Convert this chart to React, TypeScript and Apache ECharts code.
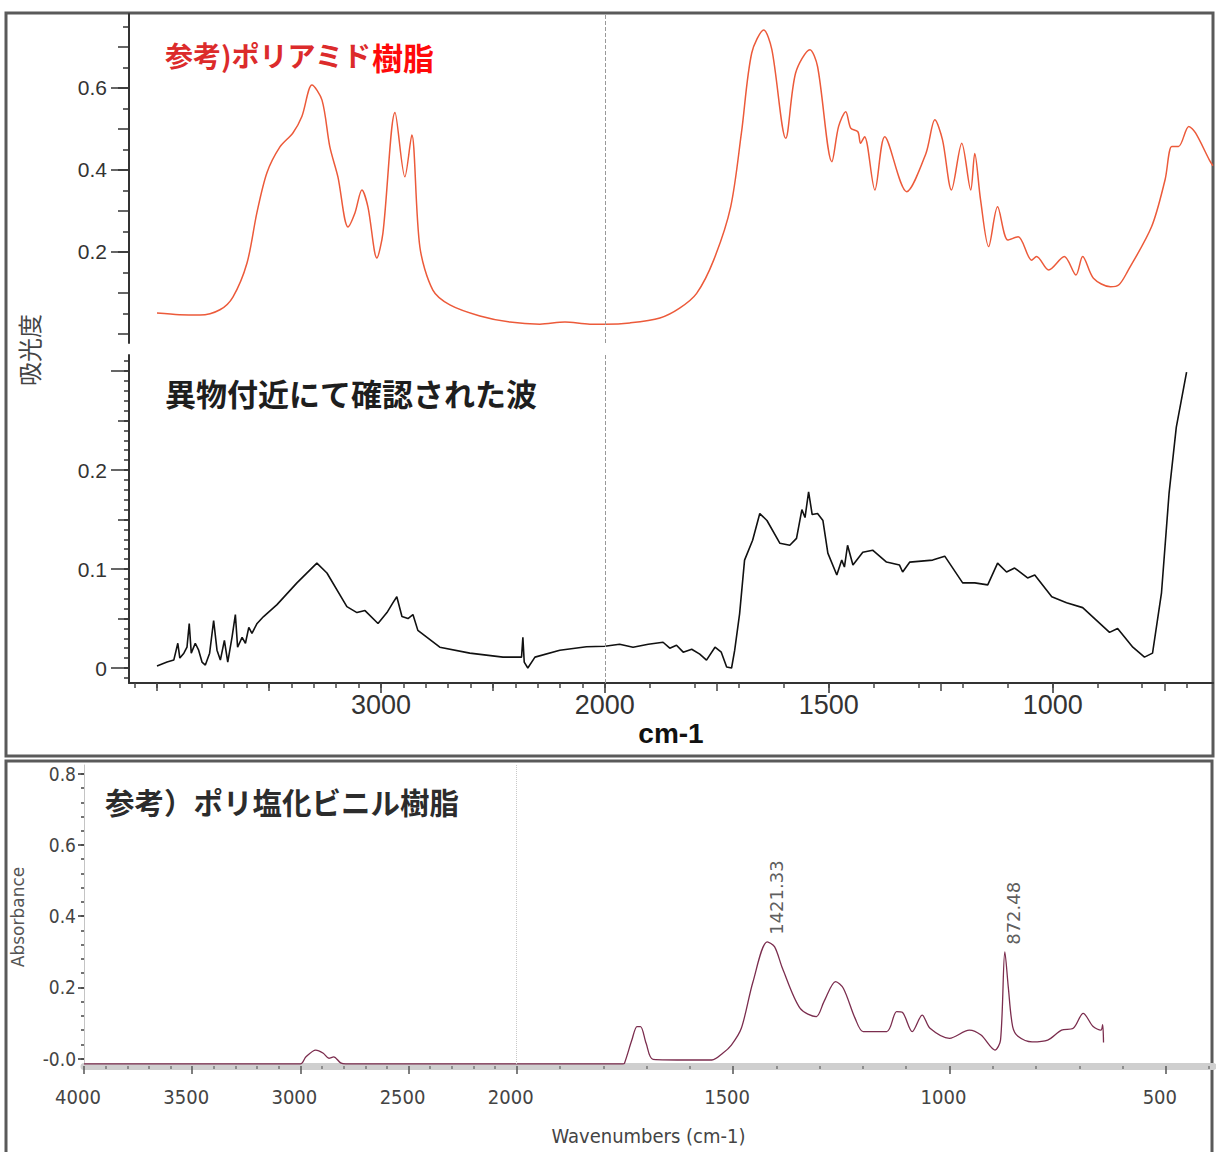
import React, { useEffect, useRef } from "react";
import * as echarts from "echarts";

// ---------- data (wavenumber cm-1, absorbance) ----------
const amideWave = [4000, 3900, 3808, 3719, 3661, 3598, 3554, 3509, 3451, 3393, 3353, 3308, 3263, 3228, 3192, 3147, 3116, 3085, 3058, 3018, 2991, 2937, 2893, 2862, 2826, 2768, 2692, 2558, 2424, 2290, 2178, 2067, 2000, 1944, 1877, 1833, 1795, 1757, 1719, 1695, 1672, 1645, 1627, 1596, 1574, 1542, 1525, 1493, 1478, 1462, 1451, 1435, 1429, 1420, 1397, 1375, 1326, 1283, 1263, 1246, 1226, 1203, 1183, 1174, 1161, 1143, 1123, 1100, 1077, 1047, 1036, 1009, 974, 948, 933, 909, 871, 852, 833, 779, 749, 734, 719, 696, 681, 650, 642];
const amideAbs = [0.051, 0.047, 0.046, 0.059, 0.09, 0.173, 0.295, 0.393, 0.456, 0.49, 0.53, 0.607, 0.57, 0.456, 0.383, 0.261, 0.295, 0.351, 0.31, 0.185, 0.246, 0.54, 0.383, 0.485, 0.212, 0.107, 0.071, 0.044, 0.029, 0.024, 0.029, 0.024, 0.024, 0.027, 0.039, 0.063, 0.099, 0.18, 0.31, 0.49, 0.685, 0.741, 0.693, 0.477, 0.636, 0.693, 0.652, 0.42, 0.506, 0.542, 0.502, 0.493, 0.465, 0.481, 0.351, 0.481, 0.347, 0.44, 0.522, 0.473, 0.351, 0.465, 0.351, 0.44, 0.327, 0.213, 0.31, 0.229, 0.237, 0.18, 0.189, 0.156, 0.189, 0.144, 0.189, 0.136, 0.115, 0.12, 0.152, 0.262, 0.376, 0.457, 0.457, 0.506, 0.49, 0.424, 0.41];

const sampleWave = [4000, 3955, 3925, 3907, 3898, 3880, 3866, 3856, 3847, 3829, 3814, 3799, 3784, 3765, 3747, 3732, 3717, 3699, 3684, 3665, 3650, 3640, 3620, 3605, 3590, 3576, 3553, 3524, 3464, 3375, 3286, 3241, 3152, 3107, 3071, 3013, 2973, 2946, 2929, 2906, 2879, 2857, 2835, 2737, 2603, 2455, 2388, 2372, 2366, 2360, 2344, 2312, 2201, 2082, 2000, 1967, 1937, 1903, 1870, 1855, 1840, 1825, 1806, 1788, 1773, 1754, 1740, 1728, 1717, 1710, 1699, 1688, 1670, 1654, 1638, 1609, 1587, 1572, 1560, 1553, 1545, 1537, 1525, 1513, 1502, 1482, 1471, 1465, 1458, 1446, 1424, 1402, 1371, 1342, 1335, 1319, 1268, 1241, 1201, 1174, 1145, 1123, 1103, 1085, 1056, 1040, 1002, 969, 933, 873, 855, 821, 795, 777, 757, 740, 724, 701];
const sampleAbs = [0.002, 0.006, 0.008, 0.025, 0.01, 0.015, 0.021, 0.045, 0.015, 0.025, 0.018, 0.006, 0.003, 0.015, 0.048, 0.018, 0.008, 0.028, 0.006, 0.031, 0.054, 0.021, 0.031, 0.025, 0.041, 0.035, 0.045, 0.052, 0.064, 0.086, 0.106, 0.096, 0.062, 0.056, 0.058, 0.045, 0.056, 0.066, 0.072, 0.052, 0.05, 0.054, 0.038, 0.021, 0.015, 0.011, 0.011, 0.011, 0.031, 0.006, 0.0, 0.011, 0.018, 0.0215, 0.022, 0.024, 0.021, 0.024, 0.026, 0.02, 0.023, 0.016, 0.019, 0.014, 0.008, 0.021, 0.016, 0.001, 0.0, 0.018, 0.055, 0.109, 0.129, 0.156, 0.149, 0.126, 0.124, 0.131, 0.16, 0.152, 0.178, 0.155, 0.156, 0.149, 0.116, 0.094, 0.109, 0.102, 0.124, 0.104, 0.117, 0.119, 0.107, 0.104, 0.097, 0.107, 0.109, 0.113, 0.086, 0.086, 0.084, 0.106, 0.097, 0.101, 0.091, 0.094, 0.072, 0.066, 0.061, 0.036, 0.04, 0.021, 0.011, 0.015, 0.076, 0.177, 0.243, 0.299];

const pvcWave = [4000, 3000, 2974, 2929, 2894, 2868, 2846, 2814, 2790, 1755, 1751, 1734, 1722, 1714, 1701, 1685, 1600, 1549, 1524, 1504, 1481, 1454, 1421, 1404, 1386, 1345, 1308, 1290, 1263, 1245, 1218, 1199, 1145, 1122, 1109, 1086, 1063, 1045, 1000, 954, 927, 895, 882, 872, 864, 854, 841, 809, 773, 741, 714, 691, 668, 650, 646, 644];
const pvcAbs = [-0.015, -0.015, 0.005, 0.024, 0.015, 0.001, 0.005, -0.012, -0.015, -0.015, -0.013, 0.052, 0.09, 0.09, 0.043, -0.002, -0.004, -0.004, 0.015, 0.038, 0.085, 0.216, 0.328, 0.314, 0.254, 0.141, 0.118, 0.16, 0.216, 0.197, 0.113, 0.076, 0.076, 0.132, 0.13, 0.076, 0.122, 0.085, 0.057, 0.08, 0.066, 0.024, 0.052, 0.3, 0.2, 0.09, 0.062, 0.047, 0.052, 0.08, 0.085, 0.127, 0.09, 0.08, 0.095, 0.045];

const peakWave = [1421.33, 872.48];
const peakAbs = [0.328, 0.3];
const peakText = ["1421.33", "872.48"];

// tick labels
const topLabelWaves = [3000, 2000, 1500, 1000];
const topMidTickWaves = [4000, 3500, 2500, 1750, 1250, 750];
const bottomLabelWaves = [4000, 3500, 3000, 2500, 2000, 1500, 1000, 500];
const upperYLabels = [0.2, 0.4, 0.6];
const lowerYLabels = [0, 0.1, 0.2];
const pvcYLabels = [0, 0.2, 0.4, 0.6, 0.8];

const titleAmideA = "参考)ポリアミド";
const titleAmideB = "樹脂";
const titleSample = "異物付近にて確認された波";
const titlePvc = "参考）ポリ塩化ビニル樹脂";

// ---------- helpers ----------
// FTIR axis: scale doubles below 2000 cm-1
const toU = (w: number) => (w > 2000 ? 2000 + (w - 2000) / 2 : w);
const fromU = (u: number) => (u > 2000 ? 2000 + (u - 2000) * 2 : u);
const steps = (a: number, b: number, s: number) => {
  const out: number[] = [];
  const n = Math.round((b - a) / s);
  for (let i = 0; i <= n; i++) out.push(Math.round((a + i * s) * 10000) / 10000);
  return out;
};
const pairs = (w: number[], a: number[]) => w.map((x, i) => [toU(x), a[i]]);

const SANS = "'Liberation Sans', Arial, sans-serif";
const NARROW = "'Liberation Sans Narrow', 'DejaVu Sans Condensed', 'Arial Narrow', 'Liberation Sans', sans-serif";
const CJK = "'Noto Sans CJK JP', 'Noto Sans CJK SC', sans-serif";

const TOP_MIN = 642;
const TOP_MAX = 3062.5;
const BOT_MIN = 391;
const BOT_MAX = 3000;

const tickOnlyX = (gridIndex: number, min: number, max: number, values: number[], length: number, color: string) => ({
  type: "value", gridIndex, min, max, inverse: true, position: "bottom",
  axisLine: { show: false, onZero: false },
  axisTick: { show: true, customValues: values, length, lineStyle: { color, width: 1.5 } },
  axisLabel: { show: false },
  splitLine: { show: false },
});
const tickOnlyY = (gridIndex: number, min: number, max: number, values: number[], length: number, color: string) => ({
  type: "value", gridIndex, min, max, position: "left",
  axisLine: { show: false, onZero: false },
  axisTick: { show: true, customValues: values, length, lineStyle: { color, width: 1.5 } },
  axisLabel: { show: false },
  splitLine: { show: false },
});

export default function App() {
  const ref = useRef<HTMLDivElement>(null);
  useEffect(() => {
    document.body.style.margin = "0";
    if (!ref.current) return;
    const chart = echarts.init(ref.current, null, { renderer: "svg" });

    const topMinor = steps(700, 4100, 100).map(toU).filter((u) => u >= TOP_MIN && u <= TOP_MAX);
    const botMinor = steps(400, 4000, 100).map(toU).filter((u) => u >= BOT_MIN && u <= BOT_MAX);

    const option: any = {
      animation: false,
      backgroundColor: "#ffffff",
      grid: [
        { left: 129, top: 14, width: 1084, height: 329, outerBoundsMode: "none" },
        { left: 129, top: 355, width: 1084, height: 328, outerBoundsMode: "none" },
        { left: 84, top: 765, width: 1129, height: 301, outerBoundsMode: "none" },
      ],
      xAxis: [
        { type: "value", gridIndex: 0, min: TOP_MIN, max: TOP_MAX, inverse: true, show: false, axisLine: { onZero: false } },
        {
          type: "value", gridIndex: 1, min: TOP_MIN, max: TOP_MAX, inverse: true, position: "bottom",
          axisLine: { show: true, onZero: false, lineStyle: { color: "#333", width: 2 } },
          axisTick: { show: true, customValues: topLabelWaves.map(toU), length: 10, lineStyle: { color: "#333", width: 1.5 } },
          axisLabel: {
            show: true, customValues: topLabelWaves.map(toU), formatter: (v: number) => String(Math.round(fromU(v))),
            fontSize: 27, fontFamily: SANS, color: "#333", margin: 22, verticalAlign: "middle",
          },
          splitLine: { show: false },
          name: "cm-1", nameLocation: "middle", nameGap: 50,
          nameTextStyle: { fontSize: 28, fontWeight: "bold", fontFamily: SANS, color: "#111", verticalAlign: "middle" },
        },
        tickOnlyX(1, TOP_MIN, TOP_MAX, topMidTickWaves.map(toU), 8, "#444"),
        tickOnlyX(1, TOP_MIN, TOP_MAX, topMinor, 5, "#444"),
        {
          type: "value", gridIndex: 2, min: BOT_MIN, max: BOT_MAX, inverse: true, position: "bottom",
          axisLine: { show: true, onZero: false, lineStyle: { color: "#cfcfcf", width: 7 } },
          axisTick: { show: true, customValues: bottomLabelWaves.map(toU), length: 8, lineStyle: { color: "#555", width: 1.5 } },
          axisLabel: {
            show: true, customValues: bottomLabelWaves.map(toU), formatter: (v: number) => String(Math.round(fromU(v))),
            fontSize: 20, fontFamily: NARROW, color: "#444", margin: 31, verticalAlign: "middle", padding: [0, 12, 0, 0],
          },
          splitLine: { show: false },
          name: "Wavenumbers (cm-1)", nameLocation: "middle", nameGap: 70,
          nameTextStyle: { fontSize: 20, fontFamily: NARROW, color: "#444", verticalAlign: "middle" },
        },
        tickOnlyX(2, BOT_MIN, BOT_MAX, botMinor, 3, "#777"),
      ],
      yAxis: [
        {
          type: "value", gridIndex: 0, min: -0.022, max: 0.78, position: "left",
          axisLine: { show: true, onZero: false, lineStyle: { color: "#333", width: 2 } },
          axisTick: { show: true, customValues: upperYLabels, length: 18, lineStyle: { color: "#333", width: 1.5 } },
          axisLabel: { show: true, customValues: upperYLabels, formatter: (v: number) => v.toFixed(1), fontSize: 21, fontFamily: SANS, color: "#333", margin: 22 },
          splitLine: { show: false },
        },
        tickOnlyY(0, -0.022, 0.78, steps(0, 0.7, 0.1), 11, "#333"),
        tickOnlyY(0, -0.022, 0.78, steps(0.05, 0.75, 0.1), 6, "#333"),
        {
          type: "value", gridIndex: 1, min: -0.01515, max: 0.3162, position: "left",
          axisLine: { show: true, onZero: false, lineStyle: { color: "#333", width: 2 } },
          axisTick: { show: true, customValues: [0, 0.1, 0.2, 0.3], length: 18, lineStyle: { color: "#333", width: 1.5 } },
          axisLabel: { show: true, customValues: lowerYLabels, formatter: (v: number) => (v === 0 ? "0" : v.toFixed(1)), fontSize: 21, fontFamily: SANS, color: "#333", margin: 22 },
          splitLine: { show: false },
        },
        tickOnlyY(1, -0.01515, 0.3162, [0.05, 0.15, 0.25], 11, "#333"),
        tickOnlyY(1, -0.01515, 0.3162, steps(-0.01, 0.31, 0.01), 5, "#333"),
        {
          type: "value", gridIndex: 2, min: -0.0208, max: 0.8247, position: "left",
          axisLine: { show: true, onZero: false, lineStyle: { color: "#c4c4c4", width: 1 } },
          axisTick: { show: true, customValues: pvcYLabels, length: 6, lineStyle: { color: "#333", width: 1.5 } },
          axisLabel: { show: true, customValues: pvcYLabels, formatter: (v: number) => (v === 0 ? "-0.0" : v.toFixed(1)), fontSize: 19, fontFamily: NARROW, color: "#444", margin: 8 },
          splitLine: { show: false },
        },
        tickOnlyY(2, -0.0208, 0.8247, steps(0, 0.8, 0.04), 3, "#444"),
      ],
      series: [
        {
          type: "line", xAxisIndex: 0, yAxisIndex: 0, data: pairs(amideWave, amideAbs),
          showSymbol: false, smooth: 0.3, lineStyle: { color: "#ec5a3a", width: 1.5 },
          markLine: { symbol: "none", silent: true, label: { show: false }, lineStyle: { type: "dashed", color: "#999", width: 1 }, data: [{ xAxis: 2000 }] },
        },
        {
          type: "line", xAxisIndex: 1, yAxisIndex: 3, data: pairs(sampleWave, sampleAbs),
          showSymbol: false, lineStyle: { color: "#111", width: 1.6 },
          markLine: { symbol: "none", silent: true, label: { show: false }, lineStyle: { type: "dashed", color: "#999", width: 1 }, data: [{ xAxis: 2000 }] },
        },
        {
          type: "line", xAxisIndex: 4, yAxisIndex: 6, data: pairs(pvcWave, pvcAbs),
          showSymbol: false, smooth: 0.3, lineStyle: { color: "#7b2d4e", width: 1.3 },
          markLine: { symbol: "none", silent: true, label: { show: false }, lineStyle: { type: "dotted", color: "#c8c8c8", width: 1 }, data: [{ xAxis: 2000 }] },
        },
        {
          type: "scatter", xAxisIndex: 4, yAxisIndex: 6, symbolSize: 0, silent: true,
          data: peakWave.map((w, i) => ({ value: [toU(w), peakAbs[i]], name: peakText[i] })),
          label: {
            show: true, position: "top", distance: 7, rotate: 90, align: "left", verticalAlign: "top",
            formatter: (p: any) => p.name, fontSize: 18, fontFamily: "'DejaVu Sans', sans-serif", color: "#333",
          },
        },
      ],
      graphic: [
        { type: "rect", shape: { x: 6, y: 13, width: 1207, height: 743 }, style: { fill: "none", stroke: "#5a5a5a", lineWidth: 3 }, silent: true },
        { type: "rect", shape: { x: 6, y: 761, width: 1206, height: 400 }, style: { fill: "none", stroke: "#5a5a5a", lineWidth: 3 }, silent: true },
        { type: "text", x: 165, y: 55, style: { text: titleAmideA, fontSize: 28, fontWeight: "bold", fontFamily: CJK, fill: "#dc2b2b", verticalAlign: "middle" } },
        { type: "text", x: 372, y: 56, style: { text: titleAmideB, fontSize: 31, fontWeight: "bold", fontFamily: CJK, fill: "#ff0a0a", verticalAlign: "middle" } },
        { type: "text", x: 165, y: 392, style: { text: titleSample, fontSize: 31, fontWeight: "bold", fontFamily: CJK, fill: "#1e1e1e", verticalAlign: "middle" } },
        { type: "text", x: 105, y: 801, style: { text: titlePvc, fontSize: 29.5, fontWeight: "bold", fontFamily: CJK, fill: "#2c2c2c", verticalAlign: "middle" } },
        { type: "text", x: 28, y: 350, rotation: Math.PI / 2, style: { text: "吸光度", fontSize: 24, fontFamily: CJK, fill: "#444", align: "center", verticalAlign: "middle" } },
        { type: "text", x: 18, y: 917, rotation: Math.PI / 2, style: { text: "Absorbance", fontSize: 17, fontFamily: "'DejaVu Sans', sans-serif", fill: "#555", align: "center", verticalAlign: "middle" } },
      ],
    };
    chart.setOption(option);
    return () => chart.dispose();
  }, []);
  return <div ref={ref} style={{ width: 1216, height: 1152 }} />;
}
